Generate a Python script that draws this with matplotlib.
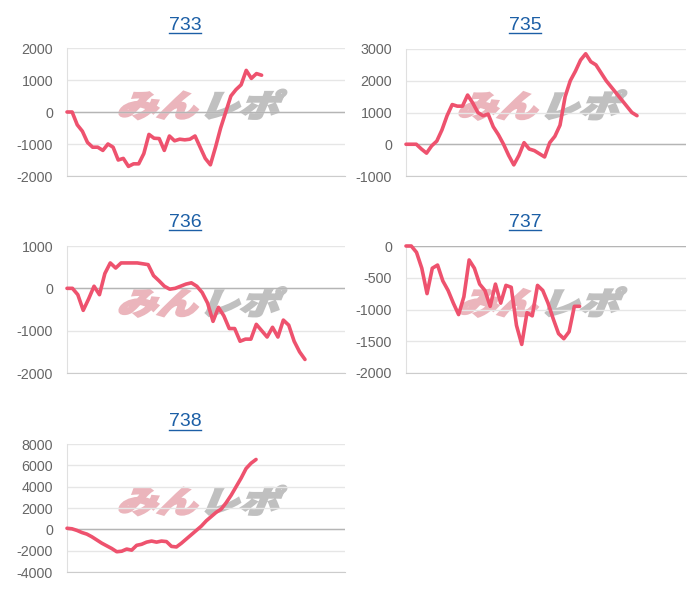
import matplotlib
matplotlib.use("Agg")
import matplotlib.pyplot as plt
from matplotlib.textpath import TextPath
from matplotlib.patches import PathPatch
from matplotlib.font_manager import FontProperties
from matplotlib.transforms import Affine2D
from matplotlib.lines import Line2D

# --- data ------------------------------------------------------------------
titles = ["733", "735", "736", "737", "738"]

s733 = [0, 0, -400, -600, -950, -1100, -1100, -1200, -1000, -1100,
        -1500, -1450, -1700, -1620, -1620, -1300, -700, -820, -830, -1200,
        -750, -900, -850, -870, -850, -750, -1100, -1450, -1650, -1100,
        -500, 0, 500, 700, 850, 1300, 1050, 1200, 1150]
s735 = [0, 0, 0, -150, -280, -50, 100, 450, 900, 1250,
        1200, 1200, 1550, 1300, 1000, 900, 950, 550, 300, 0,
        -350, -650, -350, 50, -150, -200, -300, -400, 50, 250,
        600, 1500, 2000, 2300, 2650, 2850, 2600, 2500, 2250, 2000,
        1800, 1600, 1400, 1200, 1000, 900]
s736 = [0, 0, -150, -520, -250, 50, -150, 350, 600, 480,
        600, 600, 600, 600, 580, 560, 300, 180, 50, -20,
        0, 50, 100, 130, 50, -100, -350, -780, -450, -650,
        -950, -950, -1250, -1200, -1200, -850, -1000, -1150, -920, -1150,
        -750, -870, -1250, -1500, -1680]
s737 = [0, 0, -100, -350, -750, -350, -300, -550, -700, -900,
        -1080, -800, -220, -350, -600, -700, -950, -600, -900, -620,
        -650, -1250, -1550, -1050, -1100, -620, -700, -900, -1150, -1380,
        -1460, -1350, -950, -950]
s738 = [100, 50, -100, -300, -450, -700, -1000, -1300, -1550, -1800,
        -2100, -2050, -1850, -1950, -1500, -1400, -1200, -1100, -1200, -1100,
        -1150, -1600, -1650, -1300, -900, -500, -100, 300, 800, 1200,
        1600, 1900, 2500, 3200, 4000, 4800, 5700, 6200, 6550]
series = [s733, s735, s736, s737, s738]

yticks = [
    [-2000, -1000, 0, 1000, 2000],
    [-1000, 0, 1000, 2000, 3000],
    [-2000, -1000, 0, 1000],
    [-2000, -1500, -1000, -500, 0],
    [-4000, -2000, 0, 2000, 4000, 6000, 8000],
]

# --- layout (pixels of a 700x600 canvas) -----------------------------------
W, H = 700, 600
# left, top, right, bottom of each plot area
boxes = [(67, 48, 345, 176), (406, 49, 686, 176), (67, 246, 345, 373),
         (406, 246, 686, 373), (67, 444, 345, 572)]
title_pos = [(185, 25), (525, 25), (185, 223), (525, 223), (185, 422)]
end_frac = [0.70, 0.825, 0.856, 0.62, 0.68]  # where each line stops along x

line_color = "#ee526e"
title_color = "#1c5fa6"

plt.rcParams["font.family"] = ["Liberation Sans", "DejaVu Sans"]
fig = plt.figure(figsize=(W / 100, H / 100), dpi=100)
wm_font = FontProperties(family="Noto Sans CJK JP", weight="black")


def watermark(ax):
    bb = ax.get_window_extent()
    cx = (bb.x0 + bb.x1) / 2 - 3
    cy = (bb.y0 + bb.y1) / 2 + 7
    p1 = TextPath((0, 0), "みん", size=1, prop=wm_font)
    p2 = TextPath((2.05, 0), "レポ", size=1, prop=wm_font)
    tr = Affine2D().translate(-2.05, -0.38).skew_deg(18, 0).scale(40, 31).translate(cx, cy)
    for p, c in [(p1, "#ebb5bc"), (p2, "#c0c0c0")]:
        patch = PathPatch(p, facecolor=c, edgecolor=c, lw=1.6,
                          transform=tr, zorder=0.1)
        ax.add_artist(patch)


for i, vals in enumerate(series):
    l, t, r, b = boxes[i]
    ax = fig.add_axes([l / W, 1 - b / H, (r - l) / W, (b - t) / H])
    ax.set_facecolor("none")
    x = list(range(len(vals)))
    ax.plot(x, vals, color=line_color, lw=2.6, solid_joinstyle="round",
            solid_capstyle="round", clip_on=False, zorder=3)
    ax.set_xlim(0, (len(vals) - 1) / end_frac[i])
    yt = yticks[i]
    ax.set_ylim(yt[0], yt[-1])
    ax.set_yticks(yt)
    ax.set_yticklabels([str(v) for v in yt])
    ax.set_xticks([])
    ax.tick_params(axis="y", length=0, pad=10, labelsize=10.3, labelcolor="#666666")
    ax.yaxis.grid(True, color="#e6e6e6", lw=1)
    ax.set_axisbelow(True)
    ax.axhline(0, color="#b5b5b5", lw=1, zorder=0.6)
    for s in ["top", "right"]:
        ax.spines[s].set_visible(False)
    ax.spines["left"].set_color("#e0e0e0")
    ax.spines["bottom"].set_color("#cccccc")
    watermark(ax)

    tx, ty = title_pos[i]
    fig.text(tx / W, 1 - ty / H, titles[i], ha="center", va="center",
             fontsize=14, color=title_color)

# underline the titles like links
fig.canvas.draw()
renderer = fig.canvas.get_renderer()
for txt in list(fig.texts):
    bb = txt.get_window_extent(renderer)
    y = bb.y0 + 1
    fig.add_artist(Line2D([bb.x0 / W, bb.x1 / W], [y / H, y / H],
                          color=title_color, lw=1.0))

fig.savefig("out.png", dpi=100)
